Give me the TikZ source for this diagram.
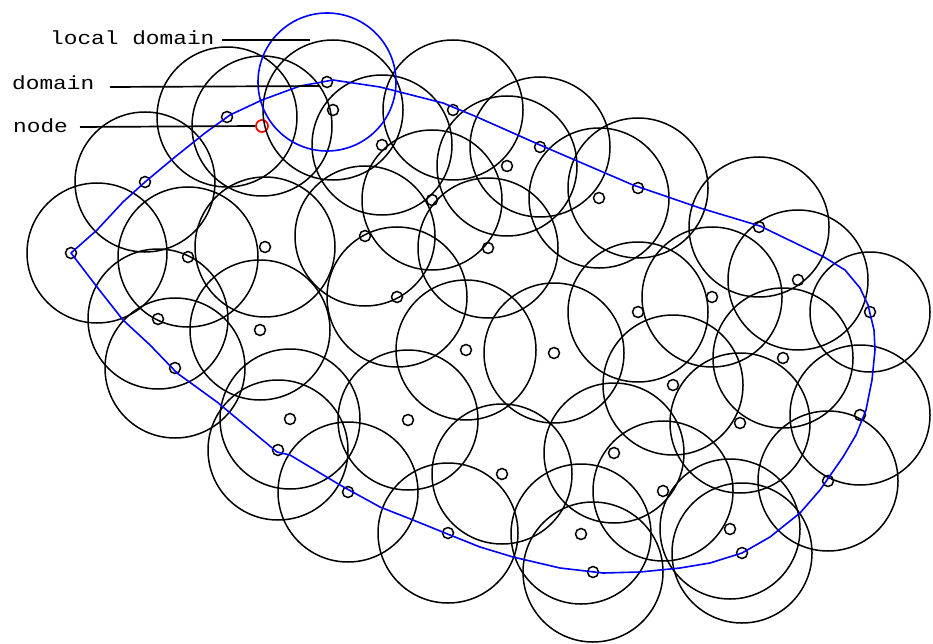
\documentclass[tikz,border=0pt]{standalone}
\usepackage{fontspec}
\newfontfamily\cadfont{Liberation Mono}
\begin{document}
\begin{tikzpicture}[x=1pt,y=-1pt,
  nd/.style={draw=black,circle,inner sep=0pt,minimum size=11pt,line width=1.5pt},
  rednd/.style={draw=red,circle,inner sep=0pt,minimum size=12pt,line width=1.7pt},
  infl/.style={draw=black,line width=1.5pt},
  domline/.style={draw=blue,line width=1.6pt,line join=round},
  leader/.style={draw=black,line width=1.7pt},
  lbl/.style={inner sep=0pt,anchor=base west,font=\cadfont\fontsize{19}{19}\selectfont}]
\useasboundingbox (0,0) rectangle (933,644);
% nodes
\foreach \n/\x/\y in {1/71/253,2/145/182,3/227/117,5/327/82,6/333/110,7/382/145,8/453/110,
  9/507/166,10/540/147,11/599/198,12/638/188,13/432/200,14/188/257,15/265/247,16/365/236,
  17/158/319,18/260/330,19/397/297,20/488/248,21/759/227,22/798/280,23/712/297,24/638/312,
  25/870/312,26/175/368,27/290/419,28/278/450,29/408/420,30/348/492,31/466/350,32/448/533,
  33/554/353,34/783/358,35/673/385,36/740/423,37/860/415,38/614/453,39/502/474,40/663/491,
  41/828/481,42/730/529,43/581/534,44/593/572,45/742/553}
  {\node[nd] (n\n) at (\x,\y) {};}
\node[rednd] (n4) at (262,126) {};
% influence circles
\foreach \n in {2,3,4,6,7,8,9,10,11,12,13,14,15,16,17,18,19,20,21,22,23,24,26,27,28,29,30,
  31,32,33,34,35,36,37,38,39,40,41,42,43,44,45}
  {\draw[infl] (n\n.center) circle[radius=70pt];}
\draw[infl] ([xshift=26pt]n1.center) circle[radius=70pt];
\draw[infl] (n25.center) circle[radius=60pt];
% local domain
\draw[domline] (n5.center) circle[radius=69pt];
% domain boundary
\draw[domline] (n1.center) -- (97,230) -- (123,202) -- (n2.center) -- (175,157) -- (205,133)
  -- (230,115) -- (262,100) -- (300,86) -- (333,80) -- (380,87) -- (443,103) -- (477,117)
  -- (540,145) -- (633,185) -- (700,208) -- (760,226) -- (824,257) -- (845,270) -- (860,288)
  -- (868,305) -- (874,330) -- (875,350) -- (872,380) -- (866,410) -- (856,435) -- (843,457)
  -- (820,490) -- (800,513) -- (770,537) -- (742,553) -- (710,563) -- (680,568) -- (640,572)
  -- (603,573) -- (560,568) -- (513,557) -- (480,547) -- (450,535) -- (413,520) -- (380,507)
  -- (340,485) -- (290,455) -- (277,452) -- (253,432) -- (217,402) -- (177,373) -- (150,345)
  -- (123,320) -- (97,287) -- cycle;
% labels
\node[lbl] (tlocal) at (50,45) {\scalebox{1.2}[1]{local domain}};
\node[lbl] (tdomain) at (12,90) {\scalebox{1.2}[1]{domain}};
\node[lbl] (tnode) at (13,133) {\scalebox{1.2}[1]{node}};
\coordinate (elocal) at (310,40);
\coordinate (edomain) at (320,86);
\draw[leader] (222,40) -- (elocal);
\draw[leader] (110,87) -- (edomain);
\draw[leader] (80,127) -- (n4.west);
\end{tikzpicture}
\end{document}
